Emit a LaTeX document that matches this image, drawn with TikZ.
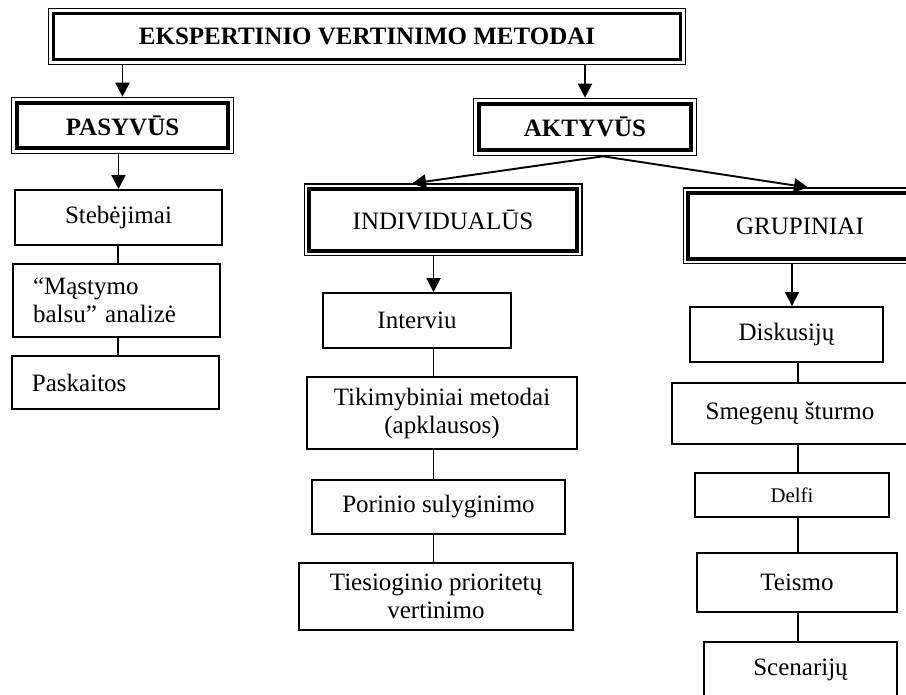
\documentclass[tikz,border=0pt]{standalone}
\usepackage{fontspec}
\setmainfont{Liberation Serif}
\usepackage{tikz}
\usetikzlibrary{arrows.meta,positioning,fit}

\begin{document}
\begin{tikzpicture}[
  x=0.5pt,y=-0.5pt,
  box/.style={draw,line width=0.95pt,align=center,inner sep=0pt,
    font=\fontsize{12.5}{14}\selectfont},
  leftbox/.style={box,align=left,text width=83.5pt,inner xsep=10pt},
  headbox/.style={box,line width=1.6pt},
  titlebox/.style={headbox,font=\fontsize{12.5}{14}\selectfont\bfseries},
  mainbox/.style={box,line width=2.4pt,font=\fontsize{12.5}{14}\selectfont\bfseries},
  frame/.style={draw,line width=0.7pt,inner sep=1.6pt},
  arr/.style={-{Triangle[length=7pt,width=7pt]},line width=0.95pt},
  link/.style={line width=0.95pt}
]
\useasboundingbox (0,0) rectangle (906,695);
\fill[white] (0,0) rectangle (906,695);
\clip (0,0) rectangle (906,695);

% head and the two branches
\node[titlebox,minimum width=313.7pt,minimum height=23.2pt] (top) at (367,36.5)
  {EKSPERTINIO VERTINIMO METODAI};
\node[frame,fit=(top)] (topf) {};
\node[mainbox,minimum width=105.5pt,minimum height=22.5pt] (pas) at (122.5,125.5) {PASYVŪS};
\node[frame,fit=(pas)] (pasf) {};
\node[mainbox,minimum width=106pt,minimum height=23pt] (akt) at (585,127) {AKTYVŪS};
\node[frame,fit=(akt)] (aktf) {};
\node[headbox,minimum width=134pt,minimum height=31pt] (ind) at (443,220) {INDIVIDUALŪS};
\node[frame,fit=(ind)] (indf) {};
\node[headbox,minimum width=112pt,minimum height=33pt] (grp) at (800,226) {GRUPINIAI};
\node[frame,fit=(grp)] (grpf) {};

% passive methods
\node[box,minimum width=103.5pt,minimum height=27.5pt] (steb) at (118.5,217.5) {Stebėjimai};
\node[leftbox,minimum height=36.5pt] (mast) at (116.5,300.5) {“Mąstymo\\balsu” analizė};
\node[leftbox,minimum height=26.5pt] (pask) at (115.5,382.5) {Paskaitos};

% individual methods
\node[box,minimum width=94pt,minimum height=27.5pt] (intv) at (417,320.5) {Interviu};
\node[box,minimum width=135pt,minimum height=36pt] (tiki) at (442,413)
  {Tikimybiniai metodai\\(apklausos)};
\node[box,minimum width=126.5pt,minimum height=27pt] (pori) at (438.5,507) {Porinio sulyginimo};
\node[box,minimum width=137pt,minimum height=33.5pt] (ties) at (436,596.5)
  {Tiesioginio prioritetų\\vertinimo};

% group methods
\node[box,minimum width=96.5pt,minimum height=27.5pt] (disk) at (786.5,334.5) {Diskusijų};
\node[box,minimum width=118pt,minimum height=30.5pt] (smeg) at (790,413.5) {Smegenų šturmo};
\node[box,minimum width=97pt,minimum height=22pt,font=\fontsize{10.4}{12}\selectfont]
  (delf) at (792,495) {Delfi};
\node[box,minimum width=100pt,minimum height=29.5pt] (teis) at (797,582.5) {Teismo};
\node[box,minimum width=96.5pt,minimum height=28pt] (scen) at (800.5,670) {Scenarijų};

\coordinate (lx) at (118,0);
\coordinate (mx) at (433.5,0);
\coordinate (rx) at (798,0);

% arrows
\draw[arr] (topf.south -| pasf.north) -- (pasf.north);
\draw[arr] (topf.south -| aktf.north) -- (aktf.north);
\draw[arr] (pasf.south -| steb.north) -- (steb.north);
\draw[arr] ([xshift=9pt]aktf.south) -- ([xshift=-15.5pt]indf.north);
\draw[arr] ([xshift=9pt]aktf.south) -- ([xshift=4pt]grpf.north);
\draw[arr] (indf.south -| mx) -- (intv.north -| mx);
\draw[arr] ([xshift=-4pt]grpf.south) -- ([xshift=-4pt]grpf.south |- disk.north);

% plain links
\draw[link] (steb.south -| lx) -- (mast.north -| lx);
\draw[link] (mast.south -| lx) -- (pask.north -| lx);
\draw[link] (intv.south -| mx) -- (tiki.north -| mx);
\draw[link] (tiki.south -| mx) -- (pori.north -| mx);
\draw[link] (pori.south -| mx) -- (ties.north -| mx);
\draw[link] (disk.south -| rx) -- (smeg.north -| rx);
\draw[link] (smeg.south -| rx) -- (delf.north -| rx);
\draw[link] (delf.south -| rx) -- (teis.north -| rx);
\draw[link] (teis.south -| rx) -- (scen.north -| rx);
\end{tikzpicture}
\end{document}
